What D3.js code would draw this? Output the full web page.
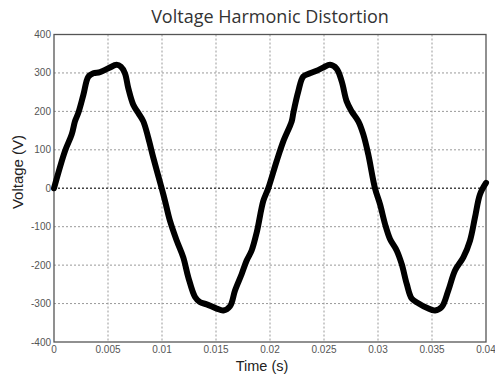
<!DOCTYPE html>
<html>
<head>
<meta charset="utf-8">
<script src="https://cdn.jsdelivr.net/npm/d3@7"></script>
<style>
  body { margin: 0; background: #fff; }
  svg { display: block; }
</style>
</head>
<body>
<svg width="495" height="377"></svg>
<script>
'use strict';

// waveform
const times = [
  0, 0.00102, 0.00164, 0.00194, 0.00225, 0.00272, 0.00318, 0.00364, 0.00426, 0.00503,
  0.0058, 0.0062, 0.00657, 0.00688, 0.00734, 0.0078, 0.00827, 0.00873, 0.0092, 0.00997,
  0.01028, 0.01074, 0.01136, 0.01197, 0.01243, 0.01306, 0.0135, 0.01414,
  0.01506, 0.01568, 0.0163, 0.01676, 0.01738, 0.01784, 0.0183, 0.01877, 0.01938,
  0.01984, 0.02062, 0.02123, 0.02201, 0.02216, 0.02262, 0.02308, 0.0237, 0.02432,
  0.02494, 0.02556, 0.02617, 0.02664, 0.0271, 0.02756, 0.02818, 0.02864, 0.0291,
  0.02972, 0.03019, 0.03065, 0.03111, 0.03173, 0.03219, 0.03266, 0.03312, 0.03373,
  0.03451, 0.03528, 0.0359, 0.03651, 0.03713, 0.0379, 0.03852, 0.03898, 0.03944, 0.04
]
const voltages = [
  0, 97, 140, 174, 196, 243, 290, 299, 302, 312,
  321, 316, 299, 260, 217, 196, 174, 131, 79, 0,
  -33, -85, -136, -180, -231, -283, -296, -302,
  -313, -318, -307, -266, -223, -188, -162, -115, -33,
  0, 71, 122, 174, 196, 252, 291, 299, 306,
  314, 321, 311, 278, 226, 200, 174, 140, 88,
  0, -42, -93, -132, -162, -197, -249, -287, -299,
  -311, -318, -309, -266, -214, -180, -136, -76, -16, 14
]
const xTicks = [0, 0.005, 0.01, 0.015, 0.02, 0.025, 0.03, 0.035, 0.04]
const xTickLabels = ['0', '0.005', '0.01', '0.015', '0.02', '0.025', '0.03', '0.035', '0.04']
const yTicks = [-400, -300, -200, -100, 0, 100, 200, 300, 400]

const svg = d3.select('svg')
const plotLeft = 54, plotRight = 486, plotTop = 34.5, plotBottom = 342

const x = d3.scaleLinear().domain([0, 0.04]).range([plotLeft, plotRight])
const y = d3.scaleLinear().domain([-400, 400]).range([plotBottom, plotTop])

// grid
const grid = svg.append('g')
grid.selectAll('line.vx')
  .data(xTicks.slice(1, -1))
  .enter().append('line')
  .attr('x1', (d) => x(d)).attr('x2', (d) => x(d))
  .attr('y1', plotTop).attr('y2', plotBottom)
  .style('stroke', '#999')
  .style('stroke-width', 1)
  .style('stroke-dasharray', '2,2')
grid.selectAll('line.hy')
  .data(yTicks.slice(1, -1))
  .enter().append('line')
  .attr('x1', plotLeft).attr('x2', plotRight)
  .attr('y1', (d) => y(d)).attr('y2', (d) => y(d))
  .style('stroke', (d) => d === 0 ? '#444' : '#999')
  .style('stroke-width', (d) => d === 0 ? 1.3 : 1)
  .style('stroke-dasharray', '2,2')

// frame
svg.append('rect')
  .attr('x', plotLeft).attr('y', plotTop)
  .attr('width', plotRight - plotLeft).attr('height', plotBottom - plotTop)
  .style('fill', 'none')
  .style('stroke', '#555')
  .style('stroke-width', 1.3)

// tick labels
svg.append('g').selectAll('text')
  .data(yTicks)
  .enter().append('text')
  .attr('x', plotLeft - 3)
  .attr('y', (d) => y(d) + 3.5)
  .attr('text-anchor', 'end')
  .style('font', '10px "Liberation Sans", Arial, sans-serif')
  .style('fill', '#555')
  .text((d) => d)

svg.append('g').selectAll('text')
  .data(xTicks)
  .enter().append('text')
  .attr('x', (d) => x(d))
  .attr('y', plotBottom + 11)
  .attr('text-anchor', 'middle')
  .style('font', '10px "Liberation Sans", Arial, sans-serif')
  .style('fill', '#555')
  .text((d, i) => xTickLabels[i])

// waveform
const line = d3.line()
  .x((d, i) => x(times[i]))
  .y((d) => y(d))
  .curve(d3.curveCatmullRom)

svg.append('path')
  .datum(voltages)
  .attr('d', line)
  .style('fill', 'none')
  .style('stroke', '#000')
  .style('stroke-width', 6)
  .style('stroke-linejoin', 'round')
  .style('stroke-linecap', 'round')

// titles
svg.append('text')
  .attr('x', 270).attr('y', 22.5)
  .attr('text-anchor', 'middle')
  .style('font', '18px "Open Sans", "Noto Sans", sans-serif')
  .style('fill', '#333')
  .text('Voltage Harmonic Distortion')

svg.append('text')
  .attr('x', 262).attr('y', 371)
  .attr('text-anchor', 'middle')
  .style('font', '14.5px "Liberation Sans", Arial, sans-serif')
  .style('fill', '#222')
  .text('Time (s)')

svg.append('text')
  .attr('transform', 'translate(23, 172) rotate(-90)')
  .attr('text-anchor', 'middle')
  .style('font', '15px "Liberation Sans", Arial, sans-serif')
  .style('fill', '#222')
  .text('Voltage (V)')
</script>
</body>
</html>
